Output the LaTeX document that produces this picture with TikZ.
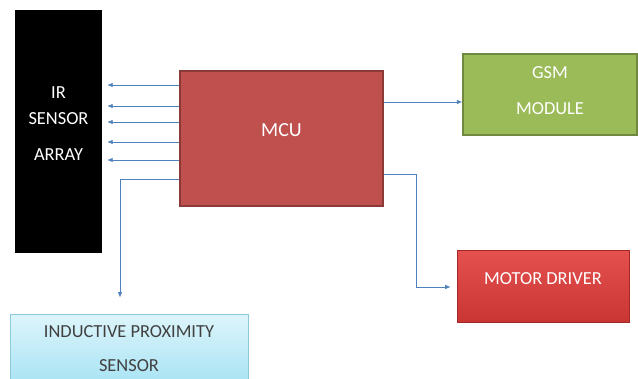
\documentclass[tikz,border=0pt]{standalone}
\usepackage{fontspec}
\setmainfont{Carlito}
\usetikzlibrary{arrows.meta}

\definecolor{mcured}{HTML}{C0504D}
\definecolor{mcuedge}{HTML}{8C3A38}
\definecolor{gsmgreen}{HTML}{9BBB59}
\definecolor{gsmedge}{HTML}{71893E}
\definecolor{drvtop}{HTML}{E4514F}
\definecolor{drvbot}{HTML}{C93532}
\definecolor{proxtop}{HTML}{DDF5FB}
\definecolor{proxbot}{HTML}{A8E3F4}
\definecolor{proxedge}{HTML}{8CCAD9}
\definecolor{wire}{HTML}{4F81BD}

\tikzset{
  block/.style={rectangle, inner sep=0pt, font=\fontsize{18.4}{36}\selectfont, align=center},
  wire/.style={draw=wire, line width=0.8pt, -{Latex[length=5.5pt,width=4.5pt]}}
}

\begin{document}
\begin{tikzpicture}[x=1pt, y=-1pt]
    \useasboundingbox[fill=white] (0,0) rectangle (638,378);

    % blocks
    \node[block, fill=black, text=white, minimum width=87pt, minimum height=243pt, text depth=15pt]
        (ir) at (58.5,131.5) {IR\\[-10pt]SENSOR\\ARRAY};
    \node[block, fill=mcured, draw=mcuedge, line width=1.2pt, text=white, font=\fontsize{20}{36}\selectfont,
        minimum width=203pt, minimum height=135pt] (mcu) at (281.5,138.5) {\raisebox{16pt}{MCU}};
    \node[block, fill=gsmgreen, draw=gsmedge, line width=1.2pt, text=white, text depth=8pt,
        minimum width=174pt, minimum height=81pt] (gsm) at (550,94.5) {GSM\\MODULE};
    \node[block, top color=drvtop, bottom color=drvbot, draw=drvbot!80!black, line width=0.6pt,
        text=white, minimum width=172pt, minimum height=72pt] (motor) at (543,286) {\raisebox{14pt}{MOTOR DRIVER}};
    \node[block, top color=proxtop, bottom color=proxbot, draw=proxedge, line width=0.8pt,
        text=black!75, minimum width=238pt, minimum height=70pt] (prox) at (129,349) {INDUCTIVE PROXIMITY\\[-2pt]SENSOR};

    % mcu -> ir array
    \foreach \yy in {85,106,122,142,160}
        \draw[wire, shorten >=5pt] (mcu.west |- 0,\yy) -- (ir.east |- 0,\yy);

    % mcu -> proximity sensor
    \coordinate (pturn) at (120,179);
    \draw[wire, shorten >=16pt] (mcu.west |- pturn) -| (prox.north -| pturn);

    % mcu -> gsm
    \draw[wire] (mcu.east |- 0,102) -- (gsm.west |- 0,102);

    % mcu -> motor driver
    \coordinate (mturn) at (416,174);
    \draw[wire, shorten >=6pt] (mcu.east |- mturn) -| (mturn |- 0,287) -- (motor.west |- 0,287);
\end{tikzpicture}
\end{document}
